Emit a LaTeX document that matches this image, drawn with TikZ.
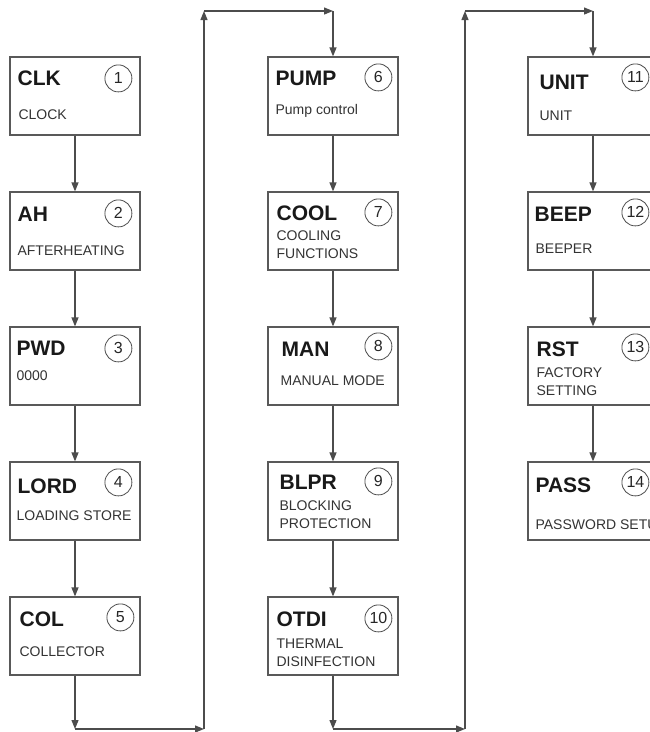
\documentclass[tikz,border=0pt]{standalone}
\usepackage{fontspec}
\setmainfont{Liberation Sans}
\usetikzlibrary{arrows.meta}

\begin{document}
\begin{tikzpicture}[
    x=1pt, y=-1pt,
    >={Triangle[length=9pt,width=7pt]},
    menu/.style={rectangle, draw=black!65, fill=white, line width=1.2pt, minimum width=130pt, minimum height=78pt, inner sep=0pt},
    head/.style={anchor=base west, inner sep=0pt, font=\fontsize{21}{21}\selectfont\bfseries, text=black!90},
    sub/.style={anchor=base west, inner sep=0pt, align=left, font=\fontsize{14}{18}\selectfont, text=black!80},
    num/.style={circle, draw=black!70, line width=0.8pt, minimum size=27pt, inner sep=0pt, font=\fontsize{16}{16}\selectfont, text=black!85},
    flow/.style={->, draw=black!70, line width=1.2pt}
]
\useasboundingbox (0,0) rectangle (650,732);
\clip (0,0) rectangle (650,732);

% Column 1: menu items 1-5
\node[menu] (clk) at (75, 96) {};
\node[menu] (ah) at (75, 231) {};
\node[menu] (pwd) at (75, 366) {};
\node[menu] (lord) at (75, 501) {};
\node[menu] (col) at (75, 636) {};

% Column 2: menu items 6-10
\node[menu] (pump) at (333, 96) {};
\node[menu] (cool) at (333, 231) {};
\node[menu] (man) at (333, 366) {};
\node[menu] (blpr) at (333, 501) {};
\node[menu] (otdi) at (333, 636) {};

% Column 3: menu items 11-14 (cut at the right edge)
\node[menu] (unit) at (593, 96) {};
\node[menu] (beep) at (593, 231) {};
\node[menu] (rst) at (593, 366) {};
\node[menu] (pass) at (593, 501) {};

% Box texts: code, number, meaning (base = last line)
\node[head] (clkH) at ([shift={(8,29)}]clk.north west) {CLK};
\node[num] (clkN) at ([shift={(109,22)}]clk.north west) {1};
\node[sub] (clkS) at ([shift={(9,63)}]clk.north west) {CLOCK};

\node[head] (ahH) at ([shift={(8,30)}]ah.north west) {AH};
\node[num] (ahN) at ([shift={(109,22)}]ah.north west) {2};
\node[sub] (ahS) at ([shift={(8,64)}]ah.north west) {AFTERHEATING};

\node[head] (pwdH) at ([shift={(7,29)}]pwd.north west) {PWD};
\node[num] (pwdN) at ([shift={(109,22)}]pwd.north west) {3};
\node[sub] (pwdS) at ([shift={(7,54)}]pwd.north west) {0000};

\node[head] (lordH) at ([shift={(8,32)}]lord.north west) {LORD};
\node[num] (lordN) at ([shift={(109,21)}]lord.north west) {4};
\node[sub] (lordS) at ([shift={(7,59)}]lord.north west) {LOADING STORE};

\node[head] (colH) at ([shift={(10,30)}]col.north west) {COL};
\node[num] (colN) at ([shift={(111,21)}]col.north west) {5};
\node[sub] (colS) at ([shift={(10,60)}]col.north west) {COLLECTOR};

\node[head] (pumpH) at ([shift={(8,29)}]pump.north west) {PUMP};
\node[num] (pumpN) at ([shift={(111,21)}]pump.north west) {6};
\node[sub] (pumpS) at ([shift={(8,58)}]pump.north west) {Pump control};

\node[head] (coolH) at ([shift={(9,29)}]cool.north west) {COOL};
\node[num] (coolN) at ([shift={(111,21)}]cool.north west) {7};
\node[sub] (coolS) at ([shift={(9,67)}]cool.north west) {COOLING\\FUNCTIONS};

\node[head] (manH) at ([shift={(14,30)}]man.north west) {MAN};
\node[num] (manN) at ([shift={(111,20)}]man.north west) {8};
\node[sub] (manS) at ([shift={(13,59)}]man.north west) {MANUAL MODE};

\node[head] (blprH) at ([shift={(12,28)}]blpr.north west) {BLPR};
\node[num] (blprN) at ([shift={(111,20)}]blpr.north west) {9};
\node[sub] (blprS) at ([shift={(12,67)}]blpr.north west) {BLOCKING\\PROTECTION};

\node[head] (otdiH) at ([shift={(9,30)}]otdi.north west) {OTDI};
\node[num] (otdiN) at ([shift={(111,22)}]otdi.north west) {10};
\node[sub] (otdiS) at ([shift={(9,70)}]otdi.north west) {THERMAL\\DISINFECTION};

\node[head] (unitH) at ([shift={(12,33)}]unit.north west) {UNIT};
\node[num] (unitN) at ([shift={(108,21)}]unit.north west) {11};
\node[sub] (unitS) at ([shift={(12,64)}]unit.north west) {UNIT};

\node[head] (beepH) at ([shift={(7,30)}]beep.north west) {BEEP};
\node[num] (beepN) at ([shift={(108,21)}]beep.north west) {12};
\node[sub] (beepS) at ([shift={(8,62)}]beep.north west) {BEEPER};

\node[head] (rstH) at ([shift={(9,30)}]rst.north west) {RST};
\node[num] (rstN) at ([shift={(108,21)}]rst.north west) {13};
\node[sub] (rstS) at ([shift={(9,69)}]rst.north west) {FACTORY\\SETTING};

\node[head] (passH) at ([shift={(8,31)}]pass.north west) {PASS};
\node[num] (passN) at ([shift={(108,21)}]pass.north west) {14};
\node[sub] (passS) at ([shift={(8,68)}]pass.north west) {PASSWORD SETUP};

% Connections inside the columns
\draw[flow] (clk) -- (ah);
\draw[flow] (ah) -- (pwd);
\draw[flow] (pwd) -- (lord);
\draw[flow] (lord) -- (col);

\draw[flow] (pump) -- (cool);
\draw[flow] (cool) -- (man);
\draw[flow] (man) -- (blpr);
\draw[flow] (blpr) -- (otdi);

\draw[flow] (unit) -- (beep);
\draw[flow] (beep) -- (rst);
\draw[flow] (rst) -- (pass);

% Wrap-around from column 1 to column 2
\coordinate (d1) at (75, 729);
\coordinate (u1) at (204, 729);
\coordinate (t1) at (204, 11);
\coordinate (p1) at (333, 11);
\draw[flow] (col) -- (d1);
\draw[flow] (d1) -- (u1);
\draw[flow] (u1) -- (t1);
\draw[flow] (t1) -- (p1);
\draw[flow] (p1) -- (pump);

% Wrap-around from column 2 to column 3
\coordinate (d2) at (333, 729);
\coordinate (u2) at (465, 729);
\coordinate (t2) at (465, 11);
\coordinate (p2) at (593, 11);
\draw[flow] (otdi) -- (d2);
\draw[flow] (d2) -- (u2);
\draw[flow] (u2) -- (t2);
\draw[flow] (t2) -- (p2);
\draw[flow] (p2) -- (unit);

\end{tikzpicture}
\end{document}
